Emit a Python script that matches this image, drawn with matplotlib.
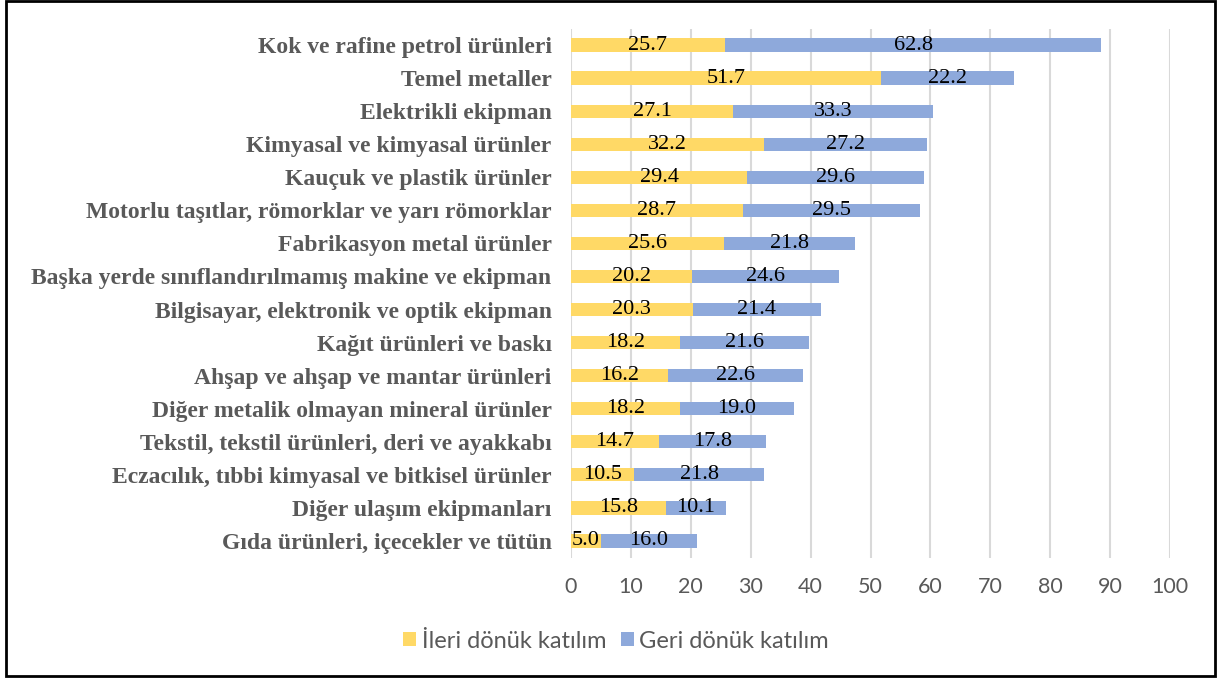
import matplotlib
matplotlib.use("Agg")
import matplotlib.pyplot as plt
from matplotlib.patches import Rectangle

categories = [
    "Kok ve rafine petrol ürünleri",
    "Temel metaller",
    "Elektrikli ekipman",
    "Kimyasal ve kimyasal ürünler",
    "Kauçuk ve plastik ürünler",
    "Motorlu taşıtlar, römorklar ve yarı römorklar",
    "Fabrikasyon metal ürünler",
    "Başka yerde sınıflandırılmamış makine ve ekipman",
    "Bilgisayar, elektronik ve optik ekipman",
    "Kağıt ürünleri ve baskı",
    "Ahşap ve ahşap ve mantar ürünleri",
    "Diğer metalik olmayan mineral ürünler",
    "Tekstil, tekstil ürünleri, deri ve ayakkabı",
    "Eczacılık, tıbbi kimyasal ve bitkisel ürünler",
    "Diğer ulaşım ekipmanları",
    "Gıda ürünleri, içecekler ve tütün",
]
ileri = [25.7, 51.7, 27.1, 32.2, 29.4, 28.7, 25.6, 20.2, 20.3, 18.2, 16.2, 18.2, 14.7, 10.5, 15.8, 5.0]
geri = [62.8, 22.2, 33.3, 27.2, 29.6, 29.5, 21.8, 24.6, 21.4, 21.6, 22.6, 19.0, 17.8, 21.8, 10.1, 16.0]
series_names = ["İleri dönük katılım", "Geri dönük katılım"]
xticks = [0, 10, 20, 30, 40, 50, 60, 70, 80, 90, 100]

W, H = 1217, 679
fig = plt.figure(figsize=(W / 100, H / 100), dpi=100)
ax = fig.add_axes([571 / W, 1 - 557.5 / H, (1170 - 571) / W, (557.5 - 28.5) / H])

ys = list(range(len(categories)))
c1, c2 = "#FFD966", "#8EA9DB"
b1 = ax.barh(ys, ileri, height=0.4, color=c1, label=series_names[0], zorder=3)
b2 = ax.barh(ys, geri, left=ileri, height=0.4, color=c2, label=series_names[1], zorder=3)

for y, a, b in zip(ys, ileri, geri):
    ax.text(a / 2, y, f"{a:.1f}", ha="center", va="center", fontsize=16,
            family="Liberation Serif", color="black", zorder=4)
    ax.text(a + b / 2, y, f"{b:.1f}", ha="center", va="center", fontsize=16,
            family="Liberation Serif", color="black", zorder=4)

ax.set_ylim(len(categories) - 0.5, -0.5)
ax.set_xlim(0, 100)
ax.set_xticks(xticks)
ax.set_yticks(ys)
ax.set_yticklabels(categories, fontsize=17, fontweight="bold", family="Liberation Serif", color="#595959")
ax.tick_params(axis="y", length=0, pad=14)
ax.tick_params(axis="x", length=0, pad=14, labelsize=15.5, labelcolor="#595959")
for lab in ax.get_xticklabels():
    lab.set_family("Lato")
ax.grid(axis="x", color="#D9D9D9", linewidth=1.5, zorder=0)
for s in ax.spines.values():
    s.set_visible(False)

leg = fig.legend(handles=[b1, b2], labels=series_names, loc="center", bbox_to_anchor=(616 / W, 1 - 641 / H),
                 ncol=2, frameon=False, prop={"family": "Lato", "size": 17},
                 handlelength=0.55, handleheight=0.55, handletextpad=0.25, columnspacing=0.6)
for t in leg.get_texts():
    t.set_color("#595959")

fig.patches.append(Rectangle((6 / W, 3 / H), (W - 8) / W, (H - 4) / H, transform=fig.transFigure,
                             fill=False, edgecolor="black", linewidth=2))

fig.savefig("out.png", dpi=100)
